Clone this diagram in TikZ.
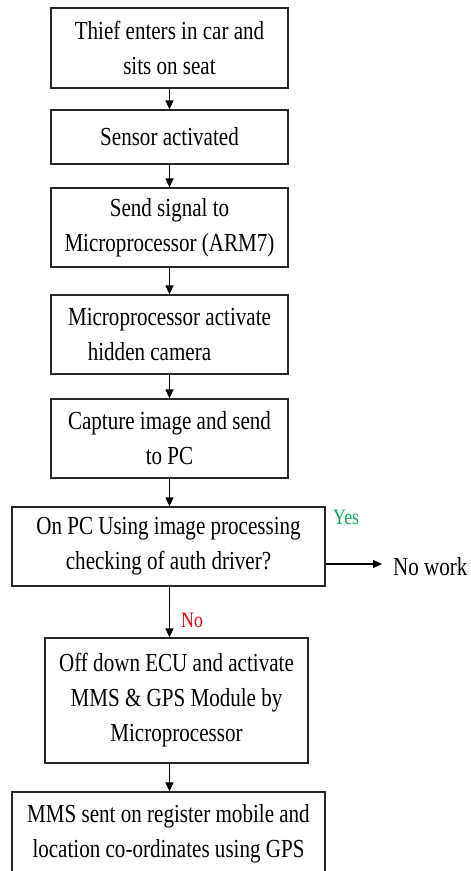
\documentclass[tikz,border=0pt]{standalone}
\usepackage{fontspec}
\setmainfont{Liberation Serif}[FakeStretch=0.81]
\usetikzlibrary{arrows.meta}

\definecolor{yesgreen}{HTML}{00B050}
\definecolor{nored}{HTML}{FF0000}

\tikzset{
  x=1pt, y=-1pt,
  flowbox/.style={draw=black!85, line width=1.2pt, rectangle, align=center,
    inner sep=0pt, font=\fontsize{26}{35}\selectfont},
  flowarrow/.style={draw=black, line width=1.1pt,
    -{Triangle[length=9pt,width=8pt]}},
  branchlabel/.style={inner sep=0pt, font=\fontsize{22}{26}\selectfont},
}

\begin{document}
\begin{tikzpicture}
  \useasboundingbox (0,0) rectangle (471,871);
  \clip (0,0) rectangle (471,871);

  % process boxes
  \node[flowbox, minimum width=237pt, minimum height=80pt] (b1) at (169.5,48)
    {Thief enters in car and\\sits on seat};
  \node[flowbox, minimum width=237pt, minimum height=54pt] (b2) at (169.5,137)
    {Sensor activated};
  \node[flowbox, minimum width=237pt, minimum height=79pt] (b3) at (169.5,227.5)
    {Send signal to\\Microprocessor (ARM7)};
  \node[flowbox, minimum width=237pt, minimum height=79pt] (b4) at (169.5,334.5)
    {Microprocessor activate\\hidden camera\hspace*{40pt}};
  \node[flowbox, minimum width=237pt, minimum height=79pt] (b5) at (169.5,438.5)
    {Capture image and send\\to PC};
  \node[flowbox, minimum width=313pt, minimum height=79pt] (b6) at (168.5,546.5)
    {On PC Using image processing\\checking of auth driver?};
  \node[flowbox, minimum width=263pt, minimum height=125pt] (b7) at (176.5,700.5)
    {Off down ECU and activate\\MMS \& GPS Module by\\Microprocessor};
  \node[flowbox, minimum width=313pt, minimum height=84pt] (b8) at (168.5,834)
    {MMS sent on register mobile and\\location co-ordinates using GPS};

  % side exit of the decision
  \node[branchlabel, font=\fontsize{26}{30}\selectfont, anchor=base west]
    (nowork) at (393,575) {No work};
  \coordinate (yesout) at ([yshift=-17.5pt]b6.east);
  \draw[flowarrow, shorten >=11pt] (yesout) -- (yesout -| nowork.west);

  % branch labels
  \node[branchlabel, text=yesgreen, anchor=base west] (yes) at (333,524) {Yes};
  \node[branchlabel, text=nored, anchor=base west] (no) at (181,627) {No};

  % main flow
  \draw[flowarrow] (b1.south) -- (b2.north);
  \draw[flowarrow] (b2.south) -- (b3.north);
  \draw[flowarrow] (b3.south) -- (b4.north);
  \draw[flowarrow] (b4.south) -- (b5.north);
  \draw[flowarrow] (b5.south) -- (b6.north -| b5.south);
  \draw[flowarrow] (b6.south -| b5.south) -- (b7.north -| b5.south);
  \draw[flowarrow] (b7.south -| b5.south) -- (b8.north -| b5.south);
\end{tikzpicture}
\end{document}
